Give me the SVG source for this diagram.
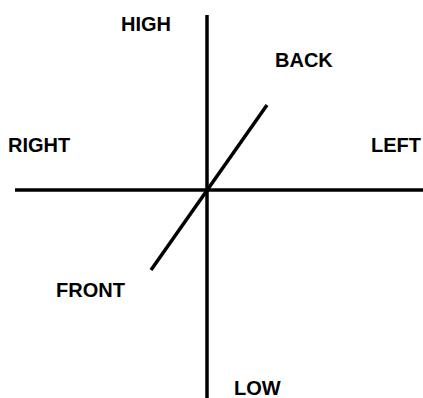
<svg xmlns="http://www.w3.org/2000/svg" width="423" height="398" viewBox="0 0 423 398">
<style>
.lbl{font-family:"Liberation Sans",Arial,sans-serif;font-weight:bold;font-size:20px;fill:#000}
.ax{stroke:#000;stroke-width:3.5;fill:none}
</style>
<rect width="423" height="398" fill="#fff"/>
<g id="connectors">
<line class="ax" x1="207" y1="15" x2="207" y2="398"/>
<line class="ax" x1="15" y1="190" x2="423" y2="190"/>
<line class="ax" x1="267" y1="105" x2="151" y2="270"/>
</g>
<g id="high"><text class="lbl" x="121" y="31">HIGH</text></g>
<g id="back"><text class="lbl" x="275" y="67">BACK</text></g>
<g id="right"><text class="lbl" x="8" y="152">RIGHT</text></g>
<g id="left"><text class="lbl" x="371" y="152">LEFT</text></g>
<g id="front"><text class="lbl" x="56" y="297">FRONT</text></g>
<g id="low"><text class="lbl" x="234" y="395">LOW</text></g>
</svg>
